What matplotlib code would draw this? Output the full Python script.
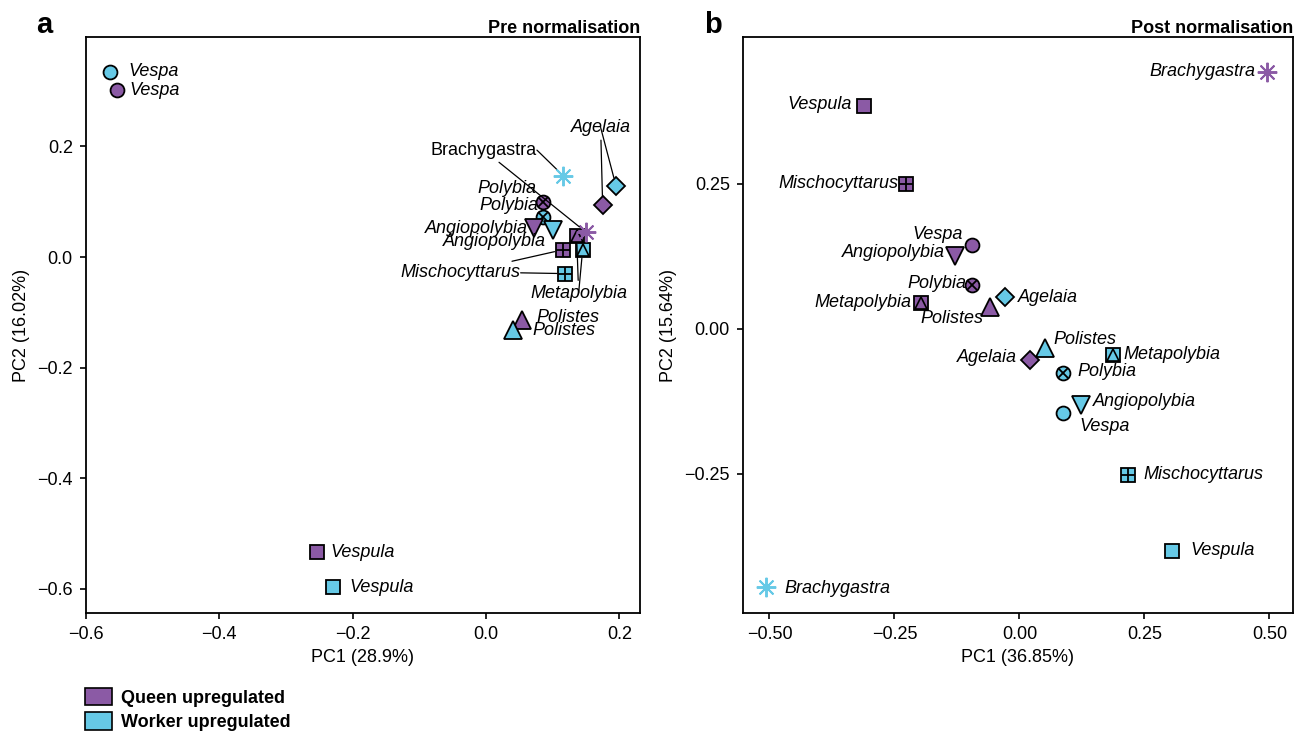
import matplotlib
matplotlib.use("Agg")
import matplotlib.pyplot as plt
from matplotlib.patches import Patch

plt.rcParams['font.family'] = ['Liberation Sans', 'DejaVu Sans']
plt.rcParams['font.size'] = 13

PURPLE = '#8b5aa5'
CYAN = '#66c9e6'

species = ['Vespa', 'Vespula', 'Polybia', 'Angiopolybia', 'Mischocyttarus',
           'Metapolybia', 'Agelaia', 'Polistes', 'Brachygastra']

# panel a: pre normalisation
pre_queen_x = [-0.553, -0.254, 0.086, 0.072, 0.115, 0.136, 0.175, 0.054, 0.150]
pre_queen_y = [0.302, -0.534, 0.100, 0.052, 0.013, 0.038, 0.095, -0.114, 0.045]
pre_worker_x = [-0.564, -0.229, 0.085, 0.101, 0.119, 0.145, 0.195, 0.040, 0.116]
pre_worker_y = [0.335, -0.597, 0.073, 0.049, -0.030, 0.013, 0.129, -0.132, 0.147]

# panel b: post normalisation
post_queen_x = [-0.095, -0.311, -0.095, -0.129, -0.227, -0.196, 0.021, -0.059, 0.496]
post_queen_y = [0.145, 0.384, 0.075, 0.125, 0.250, 0.045, -0.053, 0.037, 0.443]
post_worker_x = [0.087, 0.305, 0.088, 0.123, 0.217, 0.188, -0.029, 0.051, -0.506]
post_worker_y = [-0.145, -0.383, -0.076, -0.131, -0.252, -0.045, 0.054, -0.033, -0.445]

# label offsets in pixels (dx, dy, ha), None = no own text
pre_queen_lab = {
    'Vespa': (12, 0, 'left'), 'Vespula': (14, 0, 'left'),
    'Polybia': (-7, 13, 'right'), 'Angiopolybia': (-6, 0, 'right'),
    'Mischocyttarus': (-42, -23, 'right'), 'Metapolybia': (2, -57, 'center'),
    'Agelaia': (-2, 77, 'center'), 'Polistes': (14, 3, 'left'),
    'Brachygastra': (-49, 82, 'right'),
}
pre_worker_lab = {
    'Vespa': (18, 0, 'left'), 'Vespula': (16, 0, 'left'),
    'Polybia': (-4, 11, 'right'), 'Angiopolybia': (-7, -12, 'right'),
    'Mischocyttarus': None, 'Metapolybia': None, 'Agelaia': None,
    'Polistes': (20, -1, 'left'), 'Brachygastra': None,
}
post_queen_lab = {
    'Vespa': (-9, 10, 'right'), 'Vespula': (-12, 2, 'right'),
    'Polybia': (-6, 2, 'right'), 'Angiopolybia': (-10, 4, 'right'),
    'Mischocyttarus': (-8, 0, 'right'), 'Metapolybia': (-10, 0, 'right'),
    'Agelaia': (-13, 2, 'right'), 'Polistes': (-7, -11, 'right'),
    'Brachygastra': (-12, 0, 'right'),
}
post_worker_lab = {
    'Vespa': (16, -14, 'left'), 'Vespula': (18, 0, 'left'),
    'Polybia': (14, 1, 'left'), 'Angiopolybia': (12, 3, 'left'),
    'Mischocyttarus': (15, 0, 'left'), 'Metapolybia': (10, 0, 'left'),
    'Agelaia': (13, 0, 'left'), 'Polistes': (8, 8, 'left'),
    'Brachygastra': (18, -2, 'left'),
}
# shared labels with leader lines in panel a
leaders = ['Mischocyttarus', 'Metapolybia', 'Agelaia', 'Brachygastra']

ASTER = (8, 2, 0)


def draw_point(ax, sp, x, y, col):
    kw = dict(linestyle='none', zorder=3)
    if sp == 'Vespa':
        ax.plot(x, y, marker='o', ms=10, mfc=col, mec='black', mew=1.3, **kw)
    elif sp == 'Vespula':
        ax.plot(x, y, marker='s', ms=9.5, mfc=col, mec='black', mew=1.3, **kw)
    elif sp == 'Polybia':
        ax.plot(x, y, marker='o', ms=10, mfc=col, mec='black', mew=1.3, **kw)
        ax.plot(x, y, marker='x', ms=7, mec='black', mew=1.3, **kw)
    elif sp == 'Angiopolybia':
        ax.plot(x, y, marker='v', ms=12.5, mfc=col, mec='black', mew=1.3, **kw)
    elif sp == 'Polistes':
        ax.plot(x, y, marker='^', ms=12.5, mfc=col, mec='black', mew=1.3, **kw)
    elif sp == 'Mischocyttarus':
        ax.plot(x, y, marker='s', ms=9.5, mfc=col, mec='black', mew=1.3, **kw)
        ax.plot(x, y, marker='+', ms=9.5, mec='black', mew=1.3, **kw)
    elif sp == 'Metapolybia':
        ax.plot(x, y, marker='s', ms=9.5, mfc=col, mec='black', mew=1.3, **kw)
        ax.plot(x, y, marker='^', ms=8, mfc='none', mec='black', mew=1.2, **kw)
    elif sp == 'Agelaia':
        ax.plot(x, y, marker='D', ms=9, mfc=col, mec='black', mew=1.3, **kw)
    elif sp == 'Brachygastra':
        ax.plot(x, y, marker=ASTER, ms=14, mec=col, mew=1.4, **kw)


def label(ax, sp, x, y, spec, style='italic', line=False):
    dx, dy, ha = spec
    arrow = None
    if line:
        arrow = dict(arrowstyle='-', color='black', lw=0.9, shrinkA=1, shrinkB=6)
    ax.annotate(sp, (x, y), xytext=(dx, dy), textcoords='offset pixels',
                ha=ha, va='center', fontstyle=style, fontsize=13,
                arrowprops=arrow, zorder=4)


def leader(ax, x, y, x0, y0):
    ax.annotate('', (x, y), xytext=(x0, y0), textcoords='data',
                arrowprops=dict(arrowstyle='-', color='black', lw=0.9,
                                shrinkA=0, shrinkB=6), zorder=2)


fig = plt.figure(figsize=(13.01, 7.33), dpi=100)
ax_a = fig.add_axes([0.0661, 0.1637, 0.4258, 0.7858])
ax_b = fig.add_axes([0.5711, 0.1637, 0.4227, 0.7858])

# panel a
for i, sp in enumerate(species):
    draw_point(ax_a, sp, pre_queen_x[i], pre_queen_y[i], PURPLE)
    draw_point(ax_a, sp, pre_worker_x[i], pre_worker_y[i], CYAN)

for i, sp in enumerate(species):
    st = 'normal' if sp == 'Brachygastra' else 'italic'
    label(ax_a, sp, pre_queen_x[i], pre_queen_y[i], pre_queen_lab[sp],
          style=st, line=sp in leaders)
    if pre_worker_lab[sp] is not None:
        label(ax_a, sp, pre_worker_x[i], pre_worker_y[i], pre_worker_lab[sp])

ax_a.set_xlim(-0.6, 0.231)
ax_a.set_ylim(-0.644, 0.398)
ax_a.set_xticks([-0.6, -0.4, -0.2, 0.0, 0.2])
ax_a.set_yticks([-0.6, -0.4, -0.2, 0.0, 0.2])
ax_a.set_xticklabels(['\u22120.6', '\u22120.4', '\u22120.2', '0.0', '0.2'])
ax_a.set_yticklabels(['\u22120.6', '\u22120.4', '\u22120.2', '0.0', '0.2'])
ax_a.set_xlabel('PC1 (28.9%)', fontsize=13, labelpad=4)
ax_a.set_ylabel('PC2 (16.02%)', fontsize=13, labelpad=5)
ax_a.set_title('Pre normalisation', loc='right', fontweight='bold', fontsize=13, pad=3)

# leader lines from shared labels to the worker points
fig.canvas.draw()
for sp in leaders:
    j = species.index(sp)
    dx, dy, ha = pre_queen_lab[sp]
    qx, qy = ax_a.transData.transform((pre_queen_x[j], pre_queen_y[j]))
    tx, ty = ax_a.transData.inverted().transform((qx + dx, qy + dy))
    leader(ax_a, pre_worker_x[j], pre_worker_y[j], tx, ty)

# panel b
for i, sp in enumerate(species):
    draw_point(ax_b, sp, post_queen_x[i], post_queen_y[i], PURPLE)
    draw_point(ax_b, sp, post_worker_x[i], post_worker_y[i], CYAN)
    label(ax_b, sp, post_queen_x[i], post_queen_y[i], post_queen_lab[sp])
    label(ax_b, sp, post_worker_x[i], post_worker_y[i], post_worker_lab[sp])

ax_b.set_xlim(-0.553, 0.547)
ax_b.set_ylim(-0.49, 0.503)
ax_b.set_xticks([-0.5, -0.25, 0.0, 0.25, 0.5])
ax_b.set_yticks([-0.25, 0.0, 0.25])
ax_b.set_xticklabels(['\u22120.50', '\u22120.25', '0.00', '0.25', '0.50'])
ax_b.set_yticklabels(['\u22120.25', '0.00', '0.25'])
ax_b.set_xlabel('PC1 (36.85%)', fontsize=13, labelpad=4)
ax_b.set_ylabel('PC2 (15.64%)', fontsize=13, labelpad=5)
ax_b.set_title('Post normalisation', loc='right', fontweight='bold', fontsize=13, pad=3)

for ax in (ax_a, ax_b):
    for s in ax.spines.values():
        s.set_linewidth(1.3)
    ax.tick_params(direction='out', length=4.5, width=1.2, labelsize=13, pad=5)

fig.text(0.028, 0.985, 'a', fontsize=21, fontweight='bold', va='top')
fig.text(0.541, 0.985, 'b', fontsize=21, fontweight='bold', va='top')

handles = [Patch(facecolor=PURPLE, edgecolor='black', lw=1.2),
           Patch(facecolor=CYAN, edgecolor='black', lw=1.2)]
fig.legend(handles, ['Queen upregulated', 'Worker upregulated'],
           loc='upper left', bbox_to_anchor=(0.065, 0.062), frameon=False,
           prop=dict(weight='bold', size=13), handlelength=1.5, handleheight=1.15,
           handletextpad=0.5, labelspacing=0.3, borderpad=0, borderaxespad=0)

fig.savefig('out.png', dpi=100)
